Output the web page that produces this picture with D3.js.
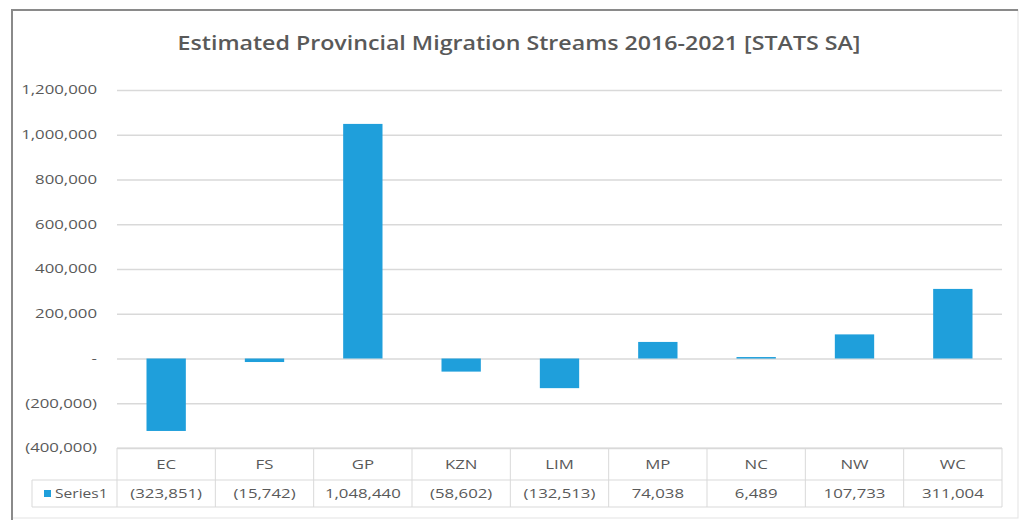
<!DOCTYPE html>
<html>
<head>
<meta charset="utf-8">
<script src="https://cdn.jsdelivr.net/npm/d3@7"></script>
<style>
  body { margin: 0; background: #fff; }
  svg { display: block; }
  text { font-family: "Open Sans", "Noto Sans", sans-serif; fill: #595959; }
</style>
</head>
<body>
<div id="chart"></div>
<script>
// data
const provinces = ["EC", "FS", "GP", "KZN", "LIM", "MP", "NC", "NW", "WC"];
const migration = [-323851, -15742, 1048440, -58602, -132513, 74038, 6489, 107733, 311004];
const yTicks = [-400000, -200000, 0, 200000, 400000, 600000, 800000, 1000000, 1200000];
const seriesName = "Series1";
const chartTitle = "Estimated Provincial Migration Streams 2016-2021 [STATS SA]";

const W = 1027, H = 520;
const margin = {top: 90, right: 25, bottom: 72, left: 117};
const barColor = "#1f9fdb";
const textStretch = 1.4;   // the source picture is wider than tall, text looks stretched

// excel accounting style: negatives in brackets, zero as a dash
const fmt = v => v === 0 ? "-" : (v < 0 ? "(" + d3.format(",")(-v) + ")" : d3.format(",")(v));

// move x/y into a transform so the glyphs can be widened
function stretch(sel, sx){
    sel.each(function(){
        const t = d3.select(this);
        const tx = +t.attr("x") || 0, ty = +t.attr("y") || 0;
        t.attr("x", 0).attr("y", 0)
         .attr("transform", "translate(" + tx + "," + ty + ") scale(" + sx + ",1)");
    });
}

const svg = d3.select("#chart").append("svg")
    .attr("width", W)
    .attr("height", H);

// chart frame
svg.append("rect")
    .attr("x", 12).attr("y", 10)
    .attr("width", 1006).attr("height", 508)
    .attr("fill", "#fff")
    .attr("stroke", "#e3e3e3")
    .attr("stroke-width", 1);
svg.append("line")
    .attr("x1", 12).attr("x2", 1018).attr("y1", 10).attr("y2", 10)
    .attr("stroke", "#8a8a8a").attr("stroke-width", 2);
svg.append("line")
    .attr("x1", 12).attr("x2", 12).attr("y1", 9).attr("y2", 520)
    .attr("stroke", "#8a8a8a").attr("stroke-width", 2);

const plotRight = 1002;
const x = d3.scaleBand()
    .domain(provinces)
    .range([margin.left, plotRight])
    .paddingInner(0.6)
    .paddingOuter(0.3);

const y = d3.scaleLinear()
    .domain([-400000, 1200000])
    .range([448, 90]);

svg.append("text")
    .attr("x", 519)
    .attr("y", 50)
    .attr("text-anchor", "middle")
    .attr("font-size", 20)
    .attr("font-weight", 600)
    .attr("fill", "#505050")
    .text(chartTitle)
    .call(stretch, 1.16);

// gridlines + y labels
const yAxis = d3.axisLeft(y)
    .tickValues(yTicks)
    .tickSize(-(plotRight - margin.left))
    .tickPadding(20)
    .tickFormat(fmt);

const gy = svg.append("g")
    .attr("transform", "translate(" + margin.left + ",0)")
    .call(yAxis);
gy.select(".domain").remove();
gy.selectAll(".tick line").attr("stroke", "#d9d9d9").attr("stroke-width", 1.3);
gy.selectAll(".tick text")
    .attr("fill", "#595959")
    .attr("font-size", 12)
    .style("font-family", "'Open Sans', sans-serif")
    .call(stretch, textStretch);

// bars
svg.selectAll(".bar")
    .data(migration)
    .join("rect")
    .attr("class", "bar")
    .attr("x", (d, i) => x(provinces[i]))
    .attr("width", x.bandwidth())
    .attr("y", d => y(Math.max(0, d)))
    .attr("height", d => Math.max(1.5, Math.abs(y(d) - y(0))))
    .attr("fill", barColor);

// data table under the plot
const colW = (plotRight - margin.left) / provinces.length;
const tTop = 448, tMid = 480, tBot = 507;
const table = svg.append("g").attr("class", "dataTable");
const lineCol = "#d9d9d9";

table.append("line")
    .attr("x1", margin.left).attr("x2", plotRight).attr("y1", tTop).attr("y2", tTop)
    .attr("stroke", lineCol);
table.append("line")
    .attr("x1", 32).attr("x2", plotRight).attr("y1", tMid).attr("y2", tMid)
    .attr("stroke", lineCol);
table.append("line")
    .attr("x1", 32).attr("x2", plotRight).attr("y1", tBot).attr("y2", tBot)
    .attr("stroke", lineCol);
table.append("line")
    .attr("x1", 32).attr("x2", 32).attr("y1", tMid).attr("y2", tBot)
    .attr("stroke", lineCol);

d3.range(provinces.length + 1).forEach(i => {
    table.append("line")
        .attr("x1", margin.left + i * colW).attr("x2", margin.left + i * colW)
        .attr("y1", tTop).attr("y2", tBot)
        .attr("stroke", lineCol);
});

table.selectAll(".catLabel")
    .data(provinces)
    .join("text")
    .attr("class", "catLabel")
    .attr("x", (d, i) => margin.left + (i + 0.5) * colW)
    .attr("y", 469)
    .attr("text-anchor", "middle")
    .attr("font-size", 12)
    .text(d => d)
    .call(stretch, textStretch);

table.selectAll(".valLabel")
    .data(migration)
    .join("text")
    .attr("class", "valLabel")
    .attr("x", (d, i) => margin.left + (i + 0.5) * colW)
    .attr("y", 498)
    .attr("text-anchor", "middle")
    .attr("font-size", 12)
    .text(d => fmt(d))
    .call(stretch, textStretch);

// legend key
table.append("rect")
    .attr("x", 44).attr("y", 490).attr("width", 7).attr("height", 7)
    .attr("fill", barColor);
table.append("text")
    .attr("x", 55).attr("y", 498)
    .attr("font-size", 12)
    .text(seriesName)
    .call(stretch, 1.3);
</script>
</body>
</html>
